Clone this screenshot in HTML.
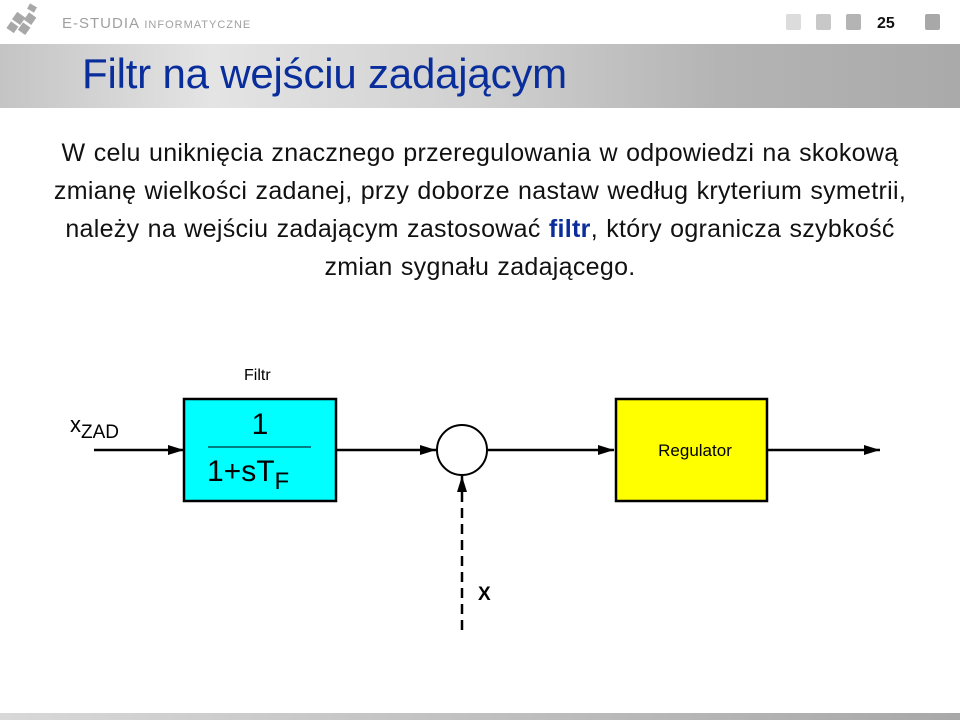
<!DOCTYPE html>
<html><head><meta charset="utf-8"><style>
body{margin:0;width:960px;height:720px;background:#fff;overflow:hidden;position:relative;font-family:"Liberation Sans",sans-serif}
.band{position:absolute;left:0;top:44px;width:960px;height:64px;background:linear-gradient(90deg,#c4c4c4 0%,#e4e4e4 22%,#d0d0d0 50%,#b4b4b4 75%,#aaaaaa 100%)}
.title{position:absolute;left:82px;top:50px;font-size:42px;color:#0a2d9c;letter-spacing:-0.2px}
.para{position:absolute;left:0;width:960px;top:134px;text-align:center;font-size:25px;line-height:38px;color:#111;letter-spacing:0.3px;word-spacing:1px}
.foot{position:absolute;left:0;top:713px;width:960px;height:7px;background:linear-gradient(90deg,#d8d8d8,#a8a8a8)}
</style></head><body>
<svg style="position:absolute;left:0;top:0" width="960" height="44">
<g fill="#a8a8a8"><rect x="28" y="5" width="8" height="6" transform="rotate(30 32 8)"/><rect x="14" y="14" width="10" height="9" transform="rotate(35 19 18)"/><rect x="26" y="14" width="9" height="9" transform="rotate(35 30 18)"/><rect x="20" y="24" width="9" height="9" transform="rotate(35 24 28)"/><rect x="8" y="23" width="9" height="8" transform="rotate(35 12 27)"/></g>
<text x="62" y="28" font-size="15" fill="#a0a0a0" font-family="Liberation Sans" letter-spacing="1">E-STUDIA <tspan font-size="11">INFORMATYCZNE</tspan></text>
<rect x="786" y="14" width="15" height="16" rx="2" fill="#dcdcdc"/>
<rect x="816" y="14" width="15" height="16" rx="2" fill="#c8c8c8"/>
<rect x="846" y="14" width="15" height="16" rx="2" fill="#b4b4b4"/>
<text x="877" y="28" font-size="16" font-weight="bold" fill="#111">25</text>
<rect x="925" y="14" width="15" height="16" rx="2" fill="#a8a8a8"/>
</svg>
<div class="band"></div>
<div class="title">Filtr na wejściu zadającym</div>
<div class="para">W celu uniknięcia znacznego przeregulowania w odpowiedzi na skokową<br>zmianę wielkości zadanej, przy doborze nastaw według kryterium symetrii,<br>należy na wejściu zadającym zastosować <b style="color:#0a2d9c">filtr</b>, który ogranicza szybkość<br>zmian sygnału zadającego.</div>
<svg style="position:absolute;left:0;top:0" width="960" height="720" font-family="Liberation Sans">
<defs><marker id="a" markerWidth="16" markerHeight="10" refX="16" refY="5" orient="auto" markerUnits="userSpaceOnUse"><path d="M0,0L16,5L0,10z" fill="#000"/></marker></defs>
<text x="244" y="380" font-size="16">Filtr</text>
<text x="70" y="432" font-size="22">x<tspan font-size="19" dy="6">ZAD</tspan></text>
<line x1="94" y1="450" x2="184" y2="450" stroke="#000" stroke-width="2.5" marker-end="url(#a)"/>
<rect x="184" y="399" width="152" height="102" fill="#00ffff" stroke="#000" stroke-width="2.5"/>
<text x="260" y="434" font-size="30" text-anchor="middle">1</text>
<line x1="208" y1="447" x2="311" y2="447" stroke="#000" stroke-width="1"/>
<text x="207" y="481" font-size="30">1+sT<tspan font-size="24" dy="8">F</tspan></text>
<line x1="336" y1="450" x2="436" y2="450" stroke="#000" stroke-width="2.5" marker-end="url(#a)"/>
<circle cx="462" cy="450" r="25" fill="#fff" stroke="#000" stroke-width="2"/>
<line x1="488" y1="450" x2="614" y2="450" stroke="#000" stroke-width="2.5" marker-end="url(#a)"/>
<rect x="616" y="399" width="151" height="102" fill="#ffff00" stroke="#000" stroke-width="2.5"/>
<text x="695" y="456" font-size="17" text-anchor="middle">Regulator</text>
<line x1="767" y1="450" x2="880" y2="450" stroke="#000" stroke-width="2.5" marker-end="url(#a)"/>
<line x1="462" y1="630" x2="462" y2="476" stroke="#000" stroke-width="2.5" stroke-dasharray="10,6" marker-end="url(#a)"/>
<text x="478" y="600" font-size="19" font-weight="bold">X</text>
</svg>
<div class="foot"></div>
</body></html>
